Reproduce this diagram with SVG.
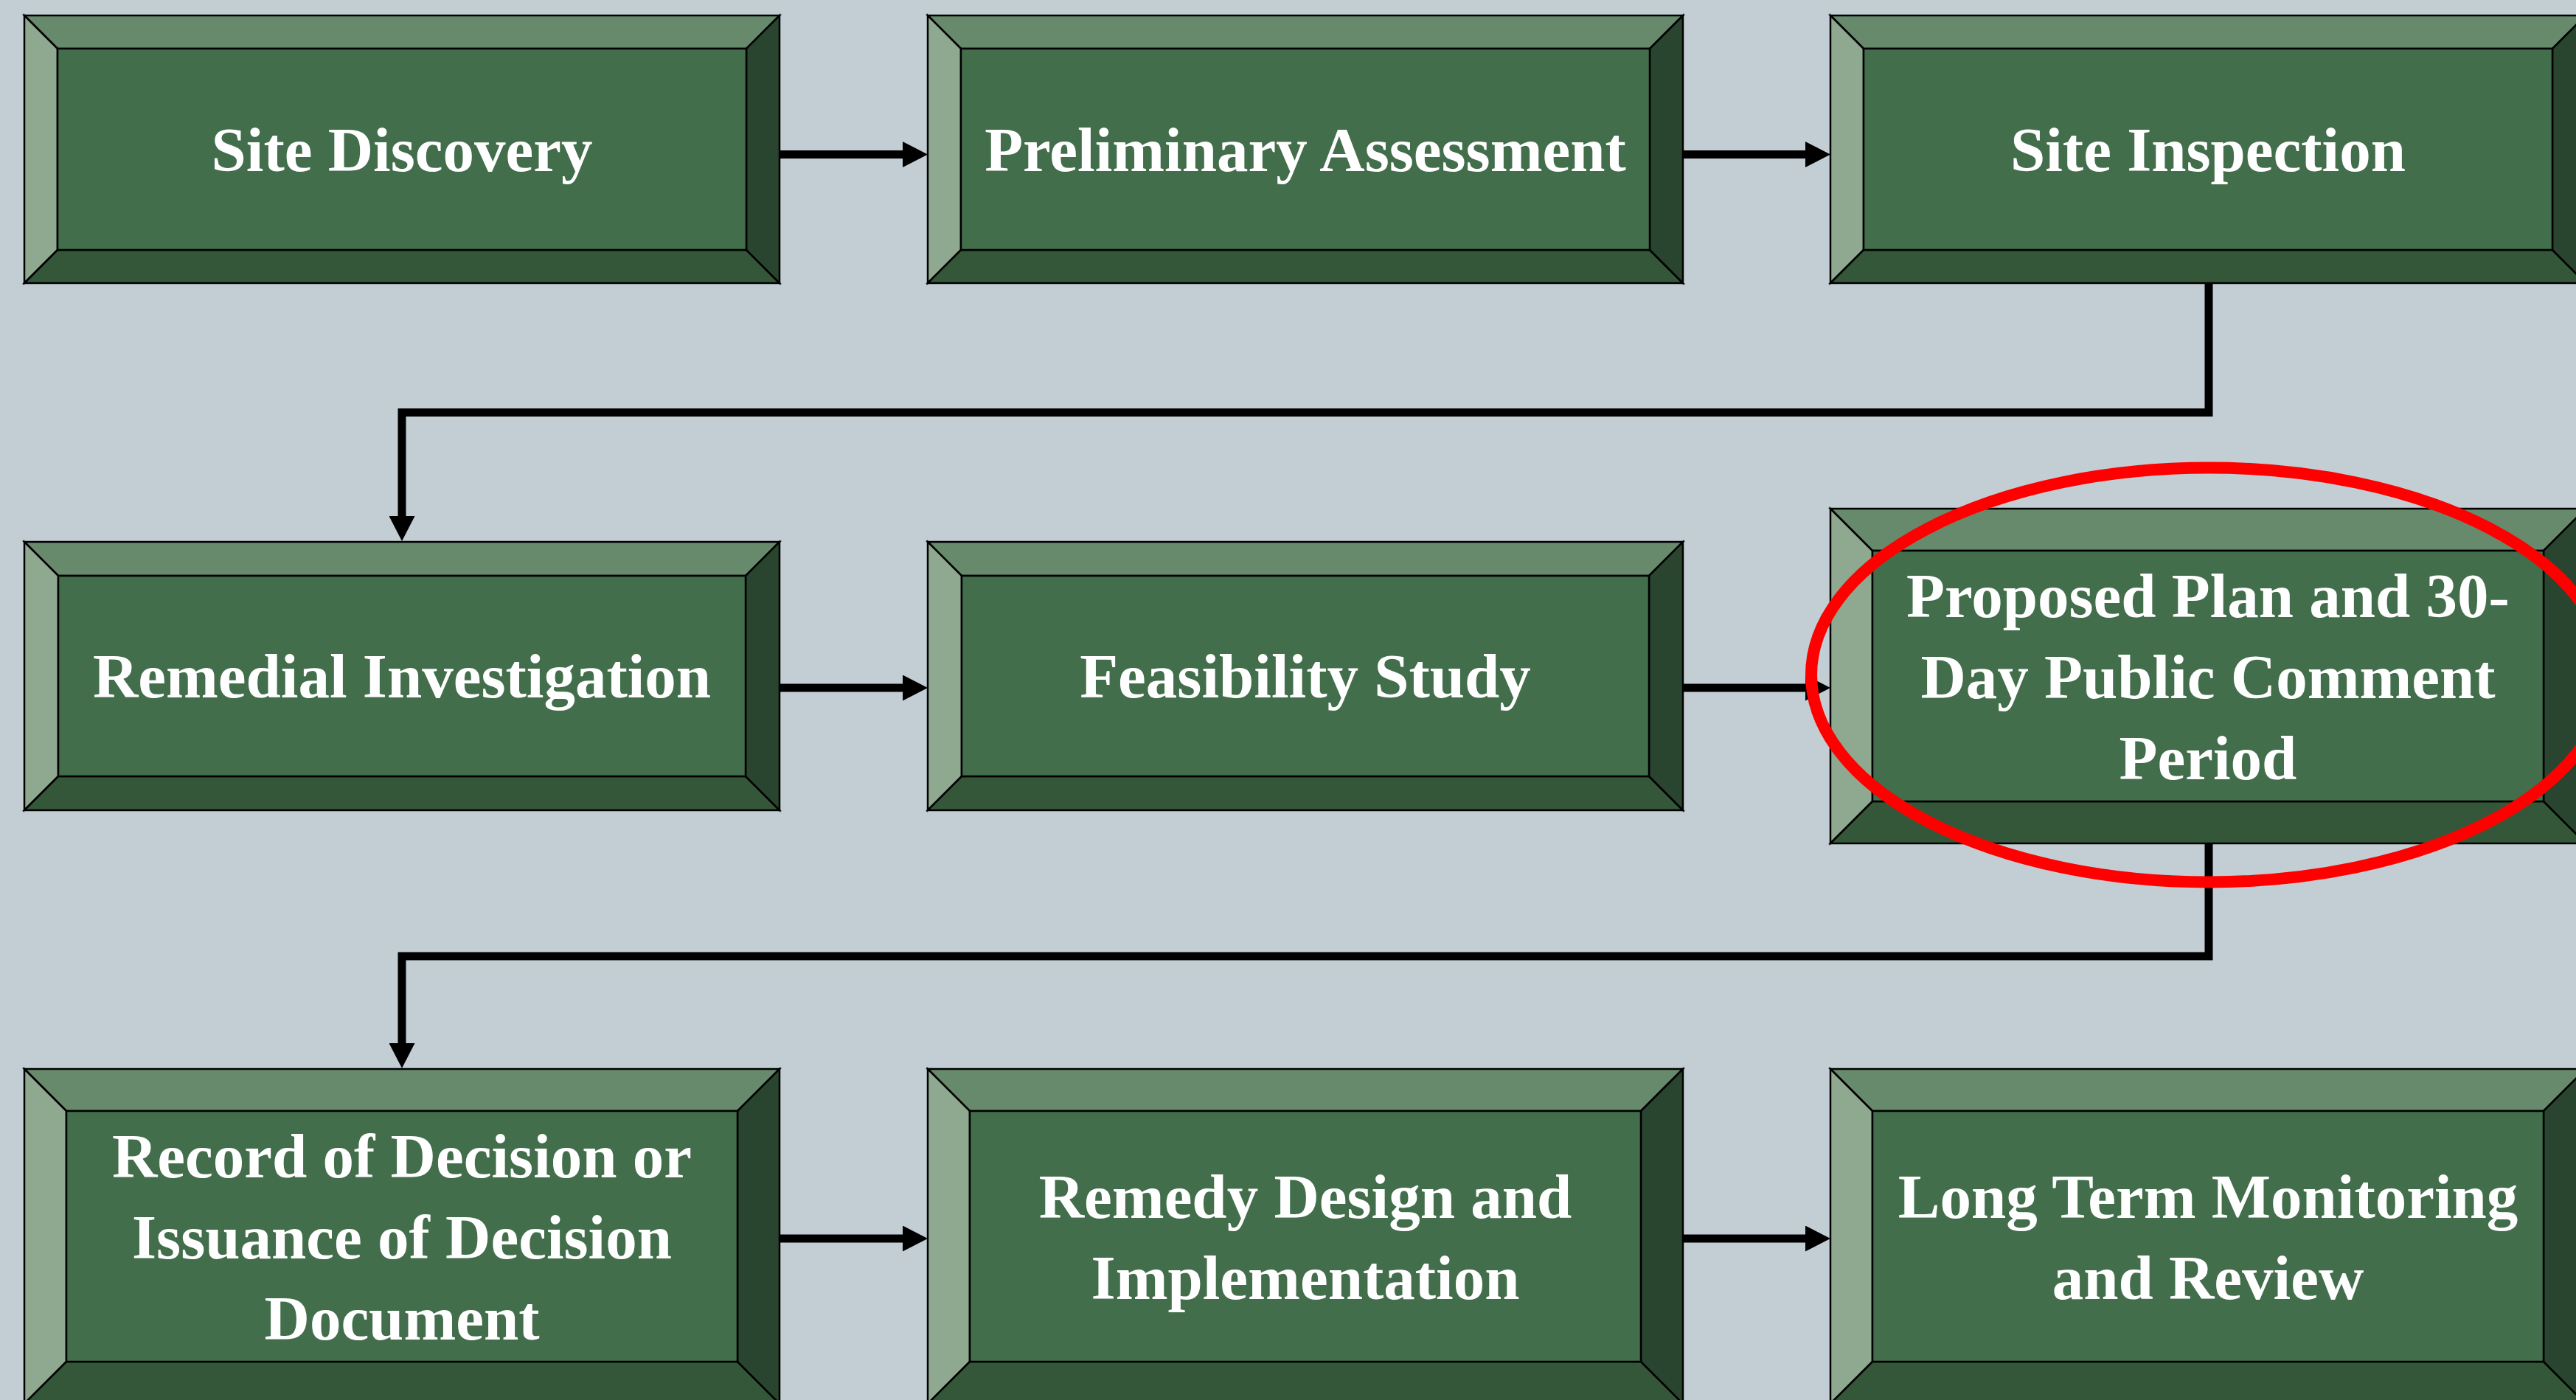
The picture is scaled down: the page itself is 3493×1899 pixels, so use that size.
<svg xmlns="http://www.w3.org/2000/svg" width="3493" height="1899" viewBox="0 0 3493 1899">
<style>
.bt{fill:#678A6C}.bl{fill:#8FA890}.bb{fill:#355739}.br{fill:#2A452F}.fc{fill:#426E4B}
.node polygon,.node rect{stroke:#000;stroke-width:2.5;stroke-linejoin:miter}
.lbl{font-family:"Liberation Serif","Times New Roman",serif;font-weight:bold;font-size:85px;fill:#FFFFFF;text-anchor:middle}
.conn{fill:none;stroke:#000;stroke-width:11;stroke-linejoin:miter}
</style>
<defs>
<marker id="ah" markerUnits="userSpaceOnUse" viewBox="0 0 34 35" refX="0" refY="17.5" markerWidth="34" markerHeight="35" orient="auto">
<path d="M0,0 L34,17.5 L0,35 Z" fill="#000"/>
</marker>
</defs>
<rect x="0" y="0" width="3493" height="1899" fill="#C3CED4"/>

<g id="connectors">
<path class="conn" d="M1057,209.5 H1224" marker-end="url(#ah)"/>
<path class="conn" d="M2282,209.5 H2448" marker-end="url(#ah)"/>
<path class="conn" d="M2995,384 V559.5 H545 V700" marker-end="url(#ah)"/>
<path class="conn" d="M1057,933 H1224" marker-end="url(#ah)"/>
<path class="conn" d="M2282,933 H2448" marker-end="url(#ah)"/>
<path class="conn" d="M2995,1144 V1297 H545 V1415" marker-end="url(#ah)"/>
<path class="conn" d="M1057,1680 H1224" marker-end="url(#ah)"/>
<path class="conn" d="M2282,1680 H2448" marker-end="url(#ah)"/>
</g>

<g id="n1" class="node">
<polygon class="bt" points="33,21 1057,21 1012,66 78,66"/>
<polygon class="bl" points="33,21 78,66 78,339 33,384"/>
<polygon class="bb" points="33,384 78,339 1012,339 1057,384"/>
<polygon class="br" points="1057,21 1057,384 1012,339 1012,66"/>
<rect class="fc" x="78" y="66" width="934" height="273"/>
<text class="lbl" x="545" y="232">Site Discovery</text>
</g>

<g id="n2" class="node">
<polygon class="bt" points="1258,21 2282,21 2237,66 1303,66"/>
<polygon class="bl" points="1258,21 1303,66 1303,339 1258,384"/>
<polygon class="bb" points="1258,384 1303,339 2237,339 2282,384"/>
<polygon class="br" points="2282,21 2282,384 2237,339 2237,66"/>
<rect class="fc" x="1303" y="66" width="934" height="273"/>
<text class="lbl" x="1770" y="232">Preliminary Assessment</text>
</g>

<g id="n3" class="node">
<polygon class="bt" points="2482,21 3506,21 3461,66 2527,66"/>
<polygon class="bl" points="2482,21 2527,66 2527,339 2482,384"/>
<polygon class="bb" points="2482,384 2527,339 3461,339 3506,384"/>
<polygon class="br" points="3506,21 3506,384 3461,339 3461,66"/>
<rect class="fc" x="2527" y="66" width="934" height="273"/>
<text class="lbl" x="2994" y="232">Site Inspection</text>
</g>

<g id="n4" class="node">
<polygon class="bt" points="33,735 1057,735 1011,781 79,781"/>
<polygon class="bl" points="33,735 79,781 79,1053 33,1099"/>
<polygon class="bb" points="33,1099 79,1053 1011,1053 1057,1099"/>
<polygon class="br" points="1057,735 1057,1099 1011,1053 1011,781"/>
<rect class="fc" x="79" y="781" width="932" height="272"/>
<text class="lbl" x="545" y="946">Remedial Investigation</text>
</g>

<g id="n5" class="node">
<polygon class="bt" points="1258,735 2282,735 2236,781 1304,781"/>
<polygon class="bl" points="1258,735 1304,781 1304,1053 1258,1099"/>
<polygon class="bb" points="1258,1099 1304,1053 2236,1053 2282,1099"/>
<polygon class="br" points="2282,735 2282,1099 2236,1053 2236,781"/>
<rect class="fc" x="1304" y="781" width="932" height="272"/>
<text class="lbl" x="1770" y="946">Feasibility Study</text>
</g>

<g id="n6" class="node">
<polygon class="bt" points="2482,690 3506,690 3449,747 2539,747"/>
<polygon class="bl" points="2482,690 2539,747 2539,1087 2482,1144"/>
<polygon class="bb" points="2482,1144 2539,1087 3449,1087 3506,1144"/>
<polygon class="br" points="3506,690 3506,1144 3449,1087 3449,747"/>
<rect class="fc" x="2539" y="747" width="910" height="340"/>
<text class="lbl" x="2994" y="836.5">Proposed Plan and 30-</text>
<text class="lbl" x="2994" y="946.5">Day Public Comment</text>
<text class="lbl" x="2994" y="1056.5">Period</text>
</g>

<g id="n7" class="node">
<polygon class="bt" points="33,1450 1057,1450 1000,1507 90,1507"/>
<polygon class="bl" points="33,1450 90,1507 90,1847 33,1904"/>
<polygon class="bb" points="33,1904 90,1847 1000,1847 1057,1904"/>
<polygon class="br" points="1057,1450 1057,1904 1000,1847 1000,1507"/>
<rect class="fc" x="90" y="1507" width="910" height="340"/>
<text class="lbl" x="545" y="1596.5">Record of Decision or</text>
<text class="lbl" x="545" y="1706.5">Issuance of Decision</text>
<text class="lbl" x="545" y="1816.5">Document</text>
</g>

<g id="n8" class="node">
<polygon class="bt" points="1258,1450 2282,1450 2225,1507 1315,1507"/>
<polygon class="bl" points="1258,1450 1315,1507 1315,1847 1258,1904"/>
<polygon class="bb" points="1258,1904 1315,1847 2225,1847 2282,1904"/>
<polygon class="br" points="2282,1450 2282,1904 2225,1847 2225,1507"/>
<rect class="fc" x="1315" y="1507" width="910" height="340"/>
<text class="lbl" x="1770" y="1652">Remedy Design and</text>
<text class="lbl" x="1770" y="1762">Implementation</text>
</g>

<g id="n9" class="node">
<polygon class="bt" points="2482,1450 3506,1450 3449,1507 2539,1507"/>
<polygon class="bl" points="2482,1450 2539,1507 2539,1847 2482,1904"/>
<polygon class="bb" points="2482,1904 2539,1847 3449,1847 3506,1904"/>
<polygon class="br" points="3506,1450 3506,1904 3449,1847 3449,1507"/>
<rect class="fc" x="2539" y="1507" width="910" height="340"/>
<text class="lbl" x="2994" y="1652">Long Term Monitoring</text>
<text class="lbl" x="2994" y="1762">and Review</text>
</g>

<ellipse id="highlight" cx="2995" cy="915.5" rx="539" ry="281" fill="none" stroke="#FF0000" stroke-width="16"/>
</svg>
